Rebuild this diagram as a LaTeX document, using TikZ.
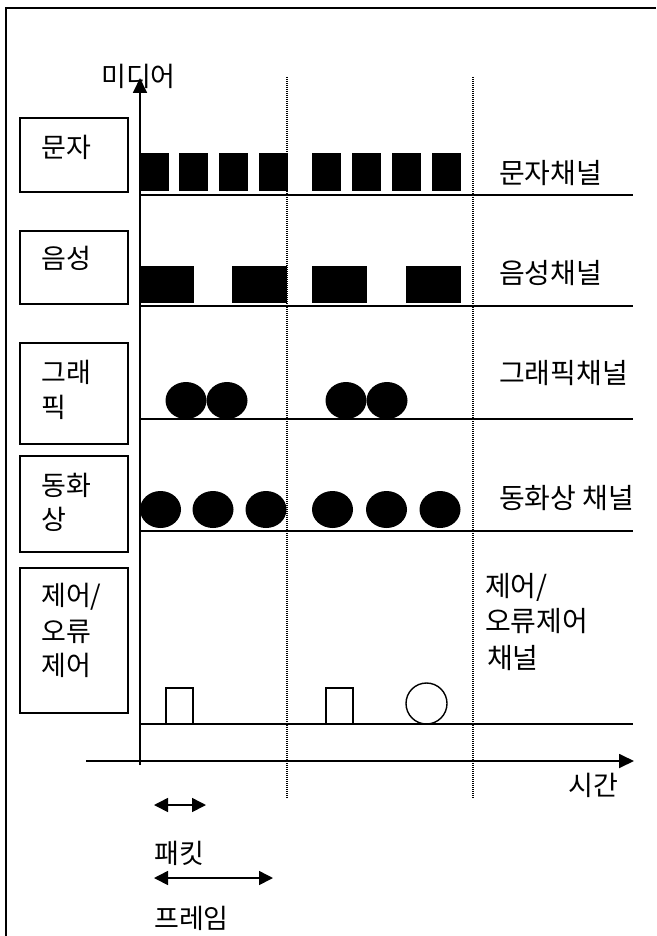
\documentclass[tikz,border=0pt]{standalone}
\usepackage{fontspec}
\setmainfont{Noto Sans CJK KR}
\usetikzlibrary{arrows.meta}
\begin{document}
\begin{tikzpicture}[x=1pt,y=-1pt,
  lbl/.style={inner sep=0pt, anchor=west, font=\fontsize{27}{30}\selectfont},
  chl/.style={inner sep=0pt, anchor=west, font=\fontsize{28}{30}\selectfont},
  mbox/.style={draw, line width=1.6pt, inner sep=0pt, anchor=north west},
  chline/.style={line width=1.6pt},
  guide/.style={line width=1.2pt, dash pattern=on 1pt off 1pt},
  blk/.style={fill=black},
  axarrow/.style={line width=1.8pt, -{Triangle[length=15pt,width=14pt]}},
  span/.style={line width=1.6pt, {Triangle[length=14pt,width=14pt]}-{Triangle[length=14pt,width=14pt]}}
]
\useasboundingbox (0,0) rectangle (656,936);
% outer frame (left and top edges visible)
\draw[line width=2pt] (6,936) -- (6,8) -- (656,8);

% dotted frame separators
\coordinate (d1t) at (287,77); \coordinate (d1b) at (287,799);
\coordinate (d2t) at (473,77); \coordinate (d2b) at (473,799);
\draw[guide] (d1t) -- (d1b);
\draw[guide] (d2t) -- (d2b);

% left media boxes
\node[mbox, minimum width=108pt, minimum height=74pt] (b1) at (19,117) {};
\node[mbox, minimum width=108pt, minimum height=73pt] (b2) at (19,230) {};
\node[mbox, minimum width=108pt, minimum height=101pt] (b3) at (19,342) {};
\node[mbox, minimum width=108pt, minimum height=96pt] (b4) at (19,455) {};
\node[mbox, minimum width=108pt, minimum height=145pt] (b5) at (19,567) {};

\node[lbl] (t1) at (41,147) {문자};
\node[lbl] (t2) at (41,258) {음성};
\node[lbl] (t3a) at (41,372) {그래};
\node[lbl] (t3b) at (41,407) {픽};
\node[lbl] (t4a) at (41,485) {동화};
\node[lbl] (t4b) at (41,519) {상};
\node[lbl] (t5a) at (41,597) {제어/};
\node[lbl] (t5b) at (41,632) {오류};
\node[lbl] (t5c) at (41,665) {제어};

% channel lines
\coordinate (c1a) at (140,195); \coordinate (c1b) at (633,195);
\coordinate (c2a) at (140,306); \coordinate (c2b) at (633,306);
\coordinate (c3a) at (140,419); \coordinate (c3b) at (633,419);
\coordinate (c4a) at (140,531); \coordinate (c4b) at (633,531);
\coordinate (c5a) at (140,724); \coordinate (c5b) at (633,724);
\draw[chline] (c1a) -- (c1b);
\draw[chline] (c2a) -- (c2b);
\draw[chline] (c3a) -- (c3b);
\draw[chline] (c4a) -- (c4b);
\draw[chline] (c5a) -- (c5b);

% channel labels
\node[chl] (l1) at (499,173) {문자채널};
\node[chl] (l2) at (499,273) {음성채널};
\node[chl] (l3) at (499,373) {그래픽채널};
\node[chl] (l4) at (499,498) {동화상 채널};
\node[chl] (l5a) at (485,587) {제어/};
\node[chl] (l5b) at (485,621) {오류제어};
\node[chl] (l5c) at (487,658) {채널};

% text channel packets
\foreach \x in {140,179,219,259,312,352,392,432}
  \fill[blk] (\x,153) rectangle ++(29,38);
% voice channel packets
\foreach \a/\b in {140/194,232/287,312/367,406/461}
  \fill[blk] (\a,266) rectangle (\b,303);
% graphic channel packets
\foreach \c in {186,227,346,387}
  \fill[blk] (\c,400.5) ellipse [x radius=20.5pt, y radius=18.5pt];
% video channel packets
\foreach \c in {160.5,213,266,332.5,386.5,440}
  \fill[blk] (\c,509.5) ellipse [x radius=20.5pt, y radius=18.5pt];
% control channel packets
\draw[line width=1.4pt] (166,724) rectangle (193,688);
\draw[line width=1.4pt] (326,724) rectangle (353,688);
\draw[line width=1.4pt] (426.5,703.5) circle [radius=20.5pt];

% axes
\node[lbl, anchor=center] (ylab) at (138.5,76) {미디어};
\node[lbl, anchor=center] (xlab) at (593,785) {시간};
\coordinate (yb) at (140,765); \coordinate (yt) at (140,78);
\coordinate (xl) at (86,761); \coordinate (xr) at (634,761);
\draw[axarrow] (yb) -- (yt);
\draw[axarrow] (xl) -- (xr);

% packet / frame spans
\coordinate (pa) at (154,805); \coordinate (pb) at (206,805);
\coordinate (fa) at (154,878); \coordinate (fb) at (273,878);
\draw[span] (pa) -- (pb);
\draw[span] (fa) -- (fb);
\node[lbl] (plab) at (154,853) {패킷};
\node[lbl] (flab) at (154,918) {프레임};
\end{tikzpicture}
\end{document}
